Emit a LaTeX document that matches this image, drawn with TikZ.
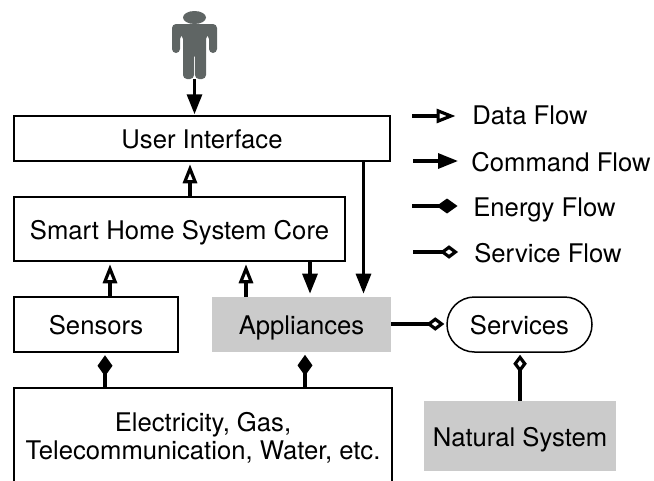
\documentclass[tikz,border=0pt]{standalone}
\usepackage{fontspec}
\setmainfont{TeX Gyre Heros}
\usetikzlibrary{arrows.meta}
\definecolor{personGray}{HTML}{5F6564}
\definecolor{boxGray}{HTML}{CBCBCB}
\tikzset{
  capline/.style={text height=11.4pt, text depth=0pt},
  box/.style={draw, line width=0.85pt, align=center, inner sep=0pt},
  greybox/.style={fill=boxGray, align=center, inner sep=0pt, capline},
  label/.style={anchor=west, inner sep=0pt, capline},
  dataflow/.style={line width=1.8pt, -{Triangle[open, length=0.38cm, width=0.28cm]}, shorten >=0.05cm},
  commandflow/.style={line width=1.8pt, -{Triangle[length=0.4cm, width=0.3cm]}, shorten >=0.02cm},
  energyflow/.style={line width=1.8pt, -{Diamond[length=0.42cm, width=0.3cm]}, shorten >=0.05cm},
  serviceflow/.style={line width=1.8pt, -{Diamond[open, length=0.36cm, width=0.27cm]}, shorten >=0.04cm}
}
\begin{document}
\begin{tikzpicture}[font=\fontsize{14.6pt}{16pt}\selectfont]
\useasboundingbox (0, 0) rectangle (13.08, 9.6);
\clip (0, 0) rectangle (13.08, 9.6);

\node (user) [minimum width=0.9cm, minimum height=1.36cm, inner sep=0pt] at (3.89, 8.7) {};
\fill [personGray] (3.89, 9.25) ellipse (0.23 and 0.13);
\fill [personGray, rounded corners=0.08cm] (3.44, 8.54) -- (3.44, 9.12) -- (4.34, 9.12) -- (4.34, 8.54) -- (4.18, 8.54) -- (4.18, 8.9) -- (4.12, 8.9) -- (4.12, 8.02) -- (3.9, 8.02) -- (3.9, 8.54) -- (3.88, 8.54) -- (3.88, 8.02) -- (3.66, 8.02) -- (3.66, 8.9) -- (3.6, 8.9) -- (3.6, 8.54) -- cycle;

\node (ui) [box, capline, minimum width=7.52cm, minimum height=0.9cm] at (4.04, 6.83) {User Interface};
\node (core) [box, capline, minimum width=6.62cm, minimum height=1.28cm] at (3.59, 5.02) {Smart Home System Core};
\node (sensors) [box, capline, minimum width=3.28cm, minimum height=1.1cm] at (1.92, 3.11) {Sensors};
\node (appliances) [greybox, minimum width=3.58cm, minimum height=1.1cm] at (6.03, 3.11) {Appliances};
\node (services) [box, capline, rounded corners=0.55cm, minimum width=2.9cm, minimum height=1.1cm] at (10.39, 3.11) {Services};
\node (utilities) [box, minimum width=7.56cm, minimum height=2cm] at (4.06, 0.84) {Electricity, Gas,\\Telecommunication, Water, etc.};
\node (natural) [greybox, minimum width=3.84cm, minimum height=1.4cm] at (10.4, 0.88) {Natural System};

\coordinate (xa) at (3.8, 0);
\coordinate (xb) at (2.2, 0);
\coordinate (xc) at (4.92, 0);
\coordinate (xd) at (6.2, 0);
\coordinate (xe) at (7.27, 0);
\coordinate (xf) at (2.1, 0);
\coordinate (xg) at (6.1, 0);

\draw [commandflow] (user.south) -- (ui.north -| user.south);
\draw [dataflow] (core.north -| xa) -- (ui.south -| xa);
\draw [dataflow] (sensors.north -| xb) -- (core.south -| xb);
\draw [dataflow] (appliances.north -| xc) -- (core.south -| xc);
\draw [commandflow] (core.south -| xd) -- ([yshift=0.04cm]appliances.north -| xd);
\draw [commandflow] (ui.south -| xe) -- ([yshift=0.04cm]appliances.north -| xe);
\draw [energyflow] (utilities.north -| xf) -- (sensors.south -| xf);
\draw [energyflow] (utilities.north -| xg) -- (appliances.south -| xg);
\draw [serviceflow] (appliances.east |- 0, 3.12) -- (services.west |- 0, 3.12);
\draw [serviceflow] (natural.north) -- (services.south -| natural.north);

\node (dataflowlabel) [label] at (9.44, 7.32) {Data Flow};
\node (commandlabel) [label] at (9.42, 6.38) {Command Flow};
\node (energylabel) [label] at (9.46, 5.48) {Energy Flow};
\node (servicelabel) [label] at (9.48, 4.56) {Service Flow};

\coordinate (dataleft) at (8.24, 7.28);
\coordinate (dataright) at (9.16, 7.28);
\coordinate (commandleft) at (8.26, 6.38);
\coordinate (commandright) at (9.18, 6.38);
\coordinate (energyleft) at (8.24, 5.48);
\coordinate (energyright) at (9.2, 5.48);
\coordinate (serviceleft) at (8.26, 4.56);
\coordinate (serviceright) at (9.2, 4.56);

\draw [dataflow] (dataleft) -- (dataright);
\draw [commandflow] (commandleft) -- (commandright);
\draw [energyflow] (energyleft) -- (energyright);
\draw [serviceflow] (serviceleft) -- (serviceright);

\end{tikzpicture}
\end{document}
